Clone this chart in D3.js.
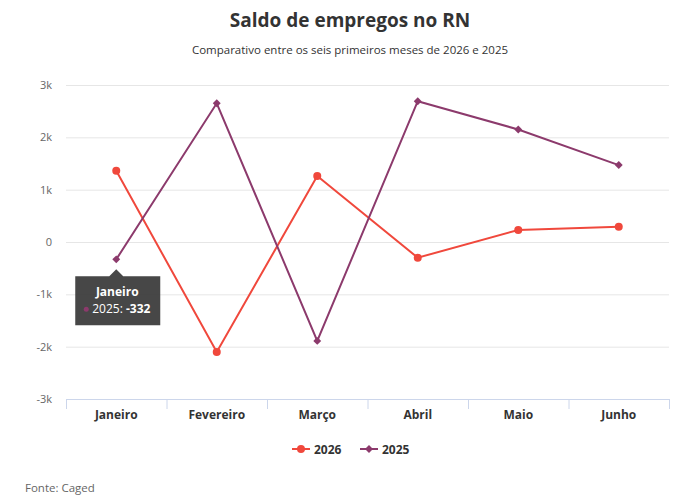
<!DOCTYPE html>
<html>
<head>
<meta charset="utf-8">
<script src="https://cdn.jsdelivr.net/npm/d3@7"></script>
<style>
  body { margin: 0; background: #fff; }
  svg text { font-family: "Open Sans", sans-serif; }
</style>
</head>
<body>
<div id="chart-area"></div>
<script>
// Saldo de empregos no RN - line chart

// data
const months = ["Janeiro", "Fevereiro", "Março", "Abril", "Maio", "Junho"]
const saldo2026 = [1360, -2100, 1260, -300, 230, 290]
const saldo2025 = [-332, 2650, -1890, 2690, 2150, 1470]
const yTicks = [-3000, -2000, -1000, 0, 1000, 2000, 3000]

const W = 700, H = 503
const MARGIN = { LEFT: 66, RIGHT: 31, TOP: 85, BOTTOM: 104 }
const WIDTH = W - MARGIN.LEFT - MARGIN.RIGHT
const HEIGHT = H - MARGIN.TOP - MARGIN.BOTTOM

const RED = "#f0483c"
const PURPLE = "#8c3a6c"

const svg = d3.select("#chart-area").append("svg")
    .attr("width", W)
    .attr("height", H)

// title + subtitle
svg.append("text")
    .attr("x", W / 2).attr("y", 27)
    .attr("text-anchor", "middle")
    .attr("font-size", "19px")
    .attr("font-weight", "bold")
    .attr("fill", "#333")
    .text("Saldo de empregos no RN")

svg.append("text")
    .attr("x", W / 2).attr("y", 54)
    .attr("text-anchor", "middle")
    .attr("font-size", "11.5px")
    .attr("fill", "#333")
    .text("Comparativo entre os seis primeiros meses de 2026 e 2025")

const g = svg.append("g")
    .attr("transform", `translate(${MARGIN.LEFT}, ${MARGIN.TOP})`)

const x = d3.scaleBand()
    .domain(months)
    .range([0, WIDTH])

const y = d3.scaleLinear()
    .domain([-3000, 3000])
    .range([HEIGHT, 0])

const fmt = v => v === 0 ? "0" : (v / 1000) + "k"

// gridlines + y labels
const yAxisGroup = g.append("g")
    .call(d3.axisLeft(y).tickValues(yTicks).tickSize(-WIDTH).tickFormat(fmt))
yAxisGroup.select(".domain").remove()
yAxisGroup.selectAll(".tick line").attr("stroke", "#e6e6e6")
yAxisGroup.selectAll(".tick text")
    .attr("x", -14)
    .attr("fill", "#666")
    .attr("font-size", "11px")
    .style("font-family", "'Open Sans', sans-serif")

// x axis
const xAxisGroup = g.append("g")
    .attr("transform", `translate(0, ${HEIGHT})`)
    .call(d3.axisBottom(x).tickSize(0))
xAxisGroup.select(".domain").attr("stroke", "#ccd6eb")
xAxisGroup.selectAll(".tick text")
    .attr("dy", "1.4em")
    .attr("fill", "#333")
    .attr("font-size", "12px")
    .attr("font-weight", "bold")
    .style("font-family", "'Open Sans', sans-serif")

// category boundary ticks
g.selectAll(".band-tick")
    .data(months.concat(["_end"]))
    .enter().append("line")
    .attr("class", "band-tick")
    .attr("x1", (d, i) => i * x.bandwidth() + 0.5)
    .attr("x2", (d, i) => i * x.bandwidth() + 0.5)
    .attr("y1", HEIGHT)
    .attr("y2", HEIGHT + 10)
    .attr("stroke", "#ccd6eb")

const cx = i => x(months[i]) + x.bandwidth() / 2

const line = d3.line()
    .x((d, i) => cx(i))
    .y(d => y(d))

// 2026
g.append("path")
    .datum(saldo2026)
    .attr("fill", "none")
    .attr("stroke", RED)
    .attr("stroke-width", 2)
    .attr("d", line)

g.selectAll(".dot26")
    .data(saldo2026)
    .enter().append("circle")
    .attr("class", "dot26")
    .attr("cx", (d, i) => cx(i))
    .attr("cy", d => y(d))
    .attr("r", 4)
    .attr("fill", RED)

// 2025
g.append("path")
    .datum(saldo2025)
    .attr("fill", "none")
    .attr("stroke", PURPLE)
    .attr("stroke-width", 2)
    .attr("d", line)

const diamond = d3.symbol().type(d3.symbolDiamond2).size(40)
g.selectAll(".dot25")
    .data(saldo2025)
    .enter().append("path")
    .attr("class", "dot25")
    .attr("transform", (d, i) => `translate(${cx(i)}, ${y(d)})`)
    .attr("d", diamond)
    .attr("fill", PURPLE)

// tooltip on Janeiro 2025
const tipX = cx(0), tipY = y(saldo2025[0])
const tip = g.append("g")
    .attr("transform", `translate(${tipX - 41}, ${tipY + 17})`)
tip.append("path")
    .attr("d", "M0,0 H34 L41,-7 L48,0 H85 V49 H0 Z")
    .attr("fill", "#333")
    .attr("fill-opacity", 0.9)
tip.append("text")
    .attr("x", 42).attr("y", 20)
    .attr("text-anchor", "middle")
    .attr("fill", "#fff")
    .attr("font-size", "12px")
    .attr("font-weight", "bold")
    .text("Janeiro")
tip.append("circle")
    .attr("cx", 11).attr("cy", 33)
    .attr("r", 2.5)
    .attr("fill", PURPLE)
const tipText = tip.append("text")
    .attr("x", 17).attr("y", 37)
    .attr("fill", "#fff")
    .attr("font-size", "12px")
tipText.append("tspan").text("2025: ")
tipText.append("tspan").attr("font-weight", "bold").text(saldo2025[0])

// legend
const legend = svg.append("g")
    .attr("transform", "translate(0, 449)")
const items = [
    { name: "2026", color: RED, sym: d3.symbolCircle, size: 50, x: 292 },
    { name: "2025", color: PURPLE, sym: d3.symbolDiamond2, size: 40, x: 360 }
]
items.forEach(it => {
    const lg = legend.append("g").attr("transform", `translate(${it.x}, 0)`)
    lg.append("line")
        .attr("x1", 0).attr("x2", 18)
        .attr("stroke", it.color)
        .attr("stroke-width", 2)
    lg.append("path")
        .attr("transform", "translate(9, 0)")
        .attr("d", d3.symbol().type(it.sym).size(it.size))
        .attr("fill", it.color)
    lg.append("text")
        .attr("x", 22).attr("y", 4.5)
        .attr("fill", "#333")
        .attr("font-size", "12px")
        .attr("font-weight", "bold")
        .text(it.name)
})

// source
svg.append("text")
    .attr("x", 25).attr("y", 492)
    .attr("fill", "#666")
    .attr("font-size", "11.5px")
    .text("Fonte: Caged")
</script>
</body>
</html>
